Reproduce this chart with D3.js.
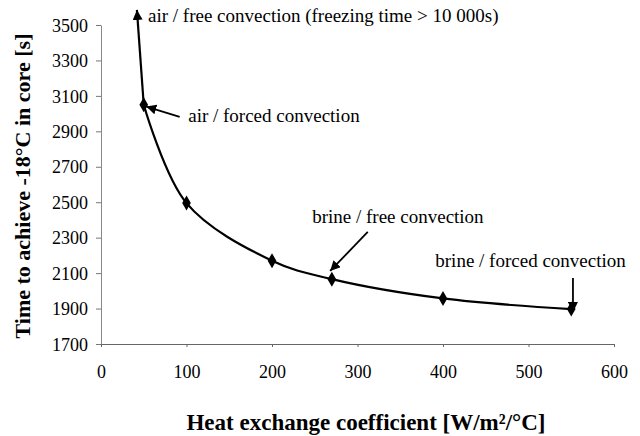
<!DOCTYPE html>
<html><head><meta charset="utf-8">
<script src="https://cdn.jsdelivr.net/npm/d3@7"></script>
<style>body{margin:0;background:#fff}svg{display:block}text{font-family:"Liberation Serif","DejaVu Serif","Times New Roman",serif}</style>
</head><body><svg id="c" width="640" height="436"></svg>
<script>
const hValues = [50, 100, 200, 270, 400, 550];
const timeValues = [3050, 2495, 2170, 2066, 1957, 1897];
const topPoint = [42, 3585]; // curve continues off-scale (freezing time > 10 000 s)
const xTicks = [0, 100, 200, 300, 400, 500, 600];
const yTicks = [1700, 1900, 2100, 2300, 2500, 2700, 2900, 3100, 3300, 3500];
const annotations = [
  {text: "air / free convection (freezing time > 10 000s)", tx: 55, ty: 3517, from: null, to: null},
  {text: "air / forced convection", tx: 102, ty: 2953, from: [92, 2981], to: [53, 3040]},
  {text: "brine / free convection", tx: 247, ty: 2382, from: [312, 2332], to: [268, 2112]},
  {text: "brine / forced convection", tx: 391, ty: 2134, from: [552, 2072], to: [552, 1880]}
];
const xLabel = "Heat exchange coefficient [W/m²/°C]";
const yLabel = "Time to achieve -18°C in core [s]";

const svg = d3.select("#c");
const x = d3.scaleLinear().domain([0, 600]).range([101, 614]);
const y = d3.scaleLinear().domain([1700, 3500]).range([344, 25]);

const defs = svg.append("defs");
defs.append("marker").attr("id","ah").attr("viewBox","0 0 10 10").attr("refX",10).attr("refY",5)
  .attr("markerWidth",10).attr("markerHeight",10).attr("markerUnits","userSpaceOnUse").attr("orient","auto")
  .append("path").attr("d","M0,0L10,5L0,10z").attr("fill","#000");

// axes
const yAxis = svg.append("g").attr("transform","translate(101,0)")
  .call(d3.axisLeft(y).tickValues(yTicks).tickSize(5).tickSizeOuter(0).tickFormat(d3.format("d")));
yAxis.attr("font-family", null);
yAxis.select(".domain").attr("stroke","#888");
yAxis.selectAll(".tick line").attr("stroke","#777");
yAxis.selectAll("text").attr("font-size",18).attr("fill","#000").attr("x",-13).attr("dy","0.34em");

const xAxis = svg.append("g").attr("transform","translate(0,344)")
  .call(d3.axisBottom(x).tickValues(xTicks).tickSize(3).tickSizeOuter(0).tickFormat(d3.format("d")));
xAxis.attr("font-family", null);
xAxis.select(".domain").attr("stroke","#666");
xAxis.selectAll(".tick line").attr("stroke","#666");
xAxis.selectAll("text").attr("font-size",18).attr("fill","#000").attr("y",21).attr("dy","0.71em");

// curve
const pts = hValues.map((h,i)=>[h, timeValues[i]]);
const line = d3.line().x(d=>x(d[0])).y(d=>y(d[1])).curve(d3.curveCatmullRom.alpha(0.5));
svg.append("path").attr("d", line(pts)).attr("fill","none").attr("stroke","#000").attr("stroke-width",2.2);
svg.append("line").attr("x1",x(pts[0][0])).attr("y1",y(pts[0][1]))
  .attr("x2",x(topPoint[0])).attr("y2",y(topPoint[1]))
  .attr("stroke","#000").attr("stroke-width",2.2).attr("marker-end","url(#ah)");

svg.selectAll("path.pt").data(pts).join("path").attr("class","pt")
  .attr("transform",d=>`translate(${x(d[0])},${y(d[1])})`)
  .attr("d", d3.symbol(d3.symbolDiamond, 65)).attr("fill","#000");

// annotations
annotations.forEach(a=>{
  svg.append("text").attr("x",x(a.tx)).attr("y",y(a.ty)).attr("font-size",19)
    .attr("fill","#000").text(a.text);
  if (a.from) {
    svg.append("line").attr("x1",x(a.from[0])).attr("y1",y(a.from[1]))
      .attr("x2",x(a.to[0])).attr("y2",y(a.to[1])).attr("stroke","#000").attr("stroke-width",1.8)
      .attr("marker-end","url(#ah)");
  }
});

// axis titles
svg.append("text").attr("x",366).attr("y",430).attr("text-anchor","middle")
  .attr("font-size",23).attr("font-weight","bold").attr("fill","#000").text(xLabel);
svg.append("text").attr("transform","translate(30,186) rotate(-90)").attr("text-anchor","middle")
  .attr("font-size",22).attr("font-weight","bold").attr("fill","#000").text(yLabel);
</script></body></html>
